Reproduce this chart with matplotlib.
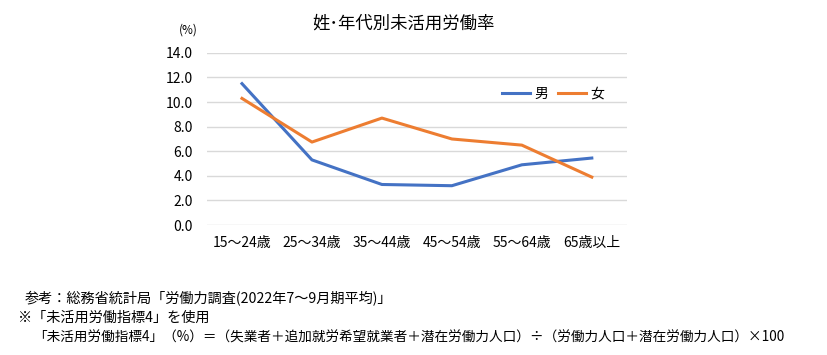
import matplotlib
matplotlib.use("Agg")
import matplotlib.pyplot as plt

plt.rcParams['font.family'] = ['Noto Sans CJK JP', 'DejaVu Sans']

categories = ["15～24歳", "25～34歳", "35～44歳", "45～54歳", "55～64歳", "65歳以上"]
male = [11.5, 5.3, 3.3, 3.2, 4.9, 5.45]
female = [10.3, 6.75, 8.7, 7.0, 6.5, 3.9]
yticks = [0, 2, 4, 6, 8, 10, 12, 14]

fig = plt.figure(figsize=(8.28, 3.55), dpi=100)
ax = fig.add_axes([0.25, 0.366, 0.507, 0.485])
x = range(len(categories))
ax.plot(x, male, color="#4472C4", lw=2.2, label="男")
ax.plot(x, female, color="#ED7D31", lw=2.2, label="女")
ax.set_xlim(-0.5, len(categories) - 0.5)
ax.set_ylim(0, 14)
ax.set_yticks(yticks)
ax.set_yticklabels([f"{v:.1f}" for v in yticks], fontsize=10)
ax.set_xticks(list(x))
ax.set_xticklabels(categories, fontsize=10)
ax.grid(axis='y', color="#D9D9D9", lw=1)
ax.set_axisbelow(True)
for s in ax.spines.values():
    s.set_visible(False)
ax.tick_params(length=0, pad=10)
ax.tick_params(axis='x', pad=8)
ax.legend(loc='upper right', bbox_to_anchor=(0.975, 0.875), ncol=2, frameon=False,
          fontsize=10, handlelength=2.0, columnspacing=0.7, handletextpad=0.3)

fig.text(0.487, 0.935, "姓･年代別未活用労働率", ha='center', va='center', fontsize=12.5)
fig.text(0.227, 0.915, "(%)", ha='center', va='center', fontsize=8.5)
fig.text(0.030, 0.158, "参考：総務省統計局「労働力調査(2022年7～9月期平均)」", ha='left', va='center', fontsize=10.2)
fig.text(0.022, 0.104, "※「未活用労働指標4」を使用", ha='left', va='center', fontsize=10.2)
fig.text(0.040, 0.050, "「未活用労働指標4」（%）＝（失業者＋追加就労希望就業者＋潜在労働力人口）÷（労働力人口＋潜在労働力人口）×100",
         ha='left', va='center', fontsize=9.8)

fig.savefig("out.png", dpi=100)
